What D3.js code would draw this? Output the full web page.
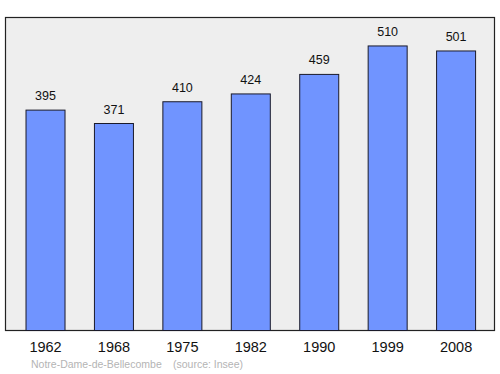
<!DOCTYPE html>
<html>
<head>
<meta charset="utf-8">
<script src="https://cdn.jsdelivr.net/npm/d3@7"></script>
<style>
  body { margin: 0; background: #fff; }
  svg { display: block; font-family: "Liberation Sans", Arial, sans-serif; }
</style>
</head>
<body>
<div id="chart"></div>
<script>
// population per census year
const years = ['1962', '1968', '1975', '1982', '1990', '1999', '2008'];
const population = [395, 371, 410, 424, 459, 510, 501];
const commune = 'Notre-Dame-de-Bellecombe';
const source = '(source: Insee)';

const width = 500;
const height = 374;
const frame = {left: 5.5, right: 494.5, top: 17.5, bottom: 330.5};

const svg = d3.select('#chart')
  .append('svg')
    .attr('width', width)
    .attr('height', height);

const x = d3.scaleBand()
    .domain(years)
    .range([11.3, 490.3])
    .paddingInner(0.43)
    .paddingOuter(0.215);

const y = d3.scaleLinear()
    .domain([0, 561])
    .range([frame.bottom, frame.top]);

svg.append('rect')
    .attr('x', frame.left)
    .attr('y', frame.top)
    .attr('width', frame.right - frame.left)
    .attr('height', frame.bottom - frame.top)
    .attr('fill', '#eeeeee')
    .attr('stroke', '#222')
    .attr('stroke-width', 1.2);

const data = years.map((yr, i) => ({year: yr, value: population[i]}));

svg.append('g')
  .selectAll('rect')
  .data(data)
  .join('rect')
    .attr('x', d => x(d.year))
    .attr('y', d => y(d.value))
    .attr('width', x.bandwidth())
    .attr('height', d => y(0) - y(d.value))
    .attr('fill', '#7094ff')
    .attr('stroke', '#1a1a2a')
    .attr('stroke-width', 1);

svg.append('g')
  .selectAll('text')
  .data(data)
  .join('text')
    .attr('x', d => x(d.year) + x.bandwidth() / 2)
    .attr('y', d => y(d.value) - 10)
    .attr('text-anchor', 'middle')
    .attr('font-size', 12.5)
    .attr('fill', '#111')
    .text(d => d.value);

// year axis, drawn without ticks or domain line
svg.append('g')
    .attr('transform', `translate(0,${frame.bottom})`)
    .call(d3.axisBottom(x).tickSize(0).tickPadding(11))
    .call(g => g.select('.domain').remove())
    .call(g => g.selectAll('text')
        .attr('font-size', 14.5)
        .attr('font-family', '"Liberation Sans", Arial, sans-serif')
        .attr('fill', '#111'));

svg.append('text')
    .attr('x', 31)
    .attr('y', 368)
    .attr('font-size', 10.5)
    .attr('fill', '#b4b4b4')
    .text(commune);

svg.append('text')
    .attr('x', 173)
    .attr('y', 368)
    .attr('font-size', 10.5)
    .attr('fill', '#b4b4b4')
    .text(source);
</script>
</body>
</html>
